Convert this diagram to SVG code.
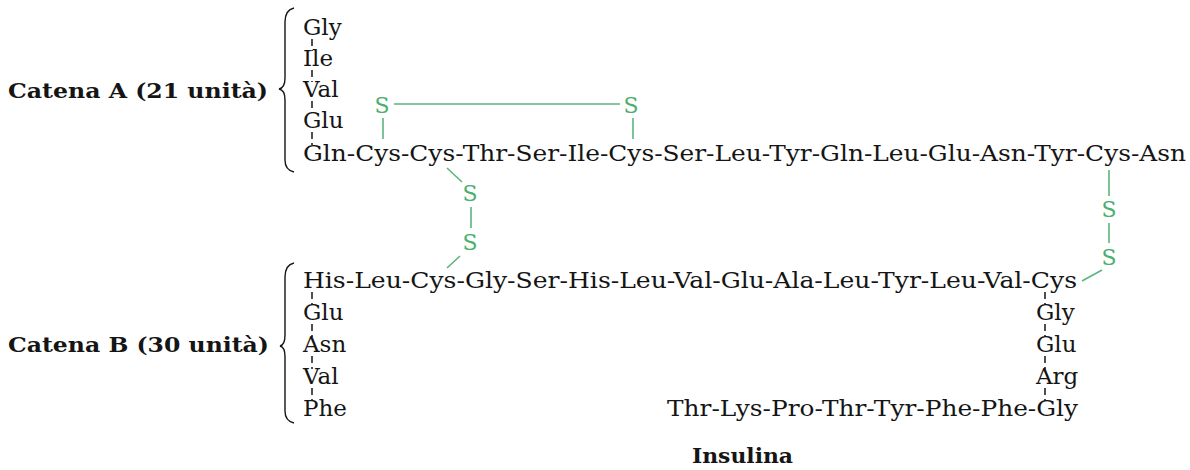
<svg xmlns="http://www.w3.org/2000/svg" width="1190" height="470" viewBox="0 0 1190 470">
<style>
.aa{font-family:"DejaVu Serif","Liberation Serif",serif;font-size:23px;fill:#151515}
.lbl{font-family:"DejaVu Serif","Liberation Serif",serif;font-size:21px;font-weight:bold;fill:#151515}
.s{font-family:"DejaVu Serif","Liberation Serif",serif;font-size:22px;fill:#4caf6e;text-anchor:middle}
.bond{stroke:#5bb57c;stroke-width:1.6;fill:none}
.tick{stroke:#151515;stroke-width:1.5;stroke-dasharray:7 4}
.brace{stroke:#151515;stroke-width:1.4;fill:none}
</style>
<rect width="1190" height="470" fill="#ffffff"/>

<g id="chainA">
  <text class="lbl" x="8" y="98" textLength="260" lengthAdjust="spacingAndGlyphs">Catena A (21 unità)</text>
  <path class="brace" d="M294,8 Q285,10 285,22 L285,78 Q285,88 279,89 Q285,90 285,100 L285,160 Q285,170 294,172"/>
  <text class="aa" x="303" y="35">Gly</text>
  <text class="aa" x="303" y="66">Ile</text>
  <text class="aa" x="303" y="97">Val</text>
  <text class="aa" x="303" y="128">Glu</text>
  <text class="aa" x="303" y="161" textLength="883" lengthAdjust="spacingAndGlyphs">Gln-Cys-Cys-Thr-Ser-Ile-Cys-Ser-Leu-Tyr-Gln-Leu-Glu-Asn-Tyr-Cys-Asn</text>
  <line class="tick" x1="312" y1="39" x2="312" y2="51"/>
  <line class="tick" x1="312" y1="70" x2="312" y2="82"/>
  <line class="tick" x1="312" y1="101" x2="312" y2="113"/>
  <line class="tick" x1="312" y1="132" x2="312" y2="145"/>
</g>

<g id="chainB">
  <text class="lbl" x="8" y="352" textLength="261" lengthAdjust="spacingAndGlyphs">Catena B (30 unità)</text>
  <path class="brace" d="M294,263 Q285,265 285,277 L285,335 Q285,345 280,346 Q285,347 285,357 L285,411 Q285,421 294,423"/>
  <text class="aa" x="303" y="288" textLength="774" lengthAdjust="spacingAndGlyphs">His-Leu-Cys-Gly-Ser-His-Leu-Val-Glu-Ala-Leu-Tyr-Leu-Val-Cys</text>
  <text class="aa" x="303" y="320">Glu</text>
  <text class="aa" x="303" y="352">Asn</text>
  <text class="aa" x="303" y="384">Val</text>
  <text class="aa" x="303" y="416">Phe</text>
  <text class="aa" x="1036" y="320">Gly</text>
  <text class="aa" x="1036" y="352">Glu</text>
  <text class="aa" x="1036" y="384">Arg</text>
  <text class="aa" x="667" y="416" textLength="411" lengthAdjust="spacingAndGlyphs">Thr-Lys-Pro-Thr-Tyr-Phe-Phe-Gly</text>
  <line class="tick" x1="312" y1="292" x2="312" y2="305"/>
  <line class="tick" x1="312" y1="324" x2="312" y2="337"/>
  <line class="tick" x1="312" y1="356" x2="312" y2="369"/>
  <line class="tick" x1="312" y1="388" x2="312" y2="401"/>
  <line class="tick" x1="1045" y1="292" x2="1045" y2="305"/>
  <line class="tick" x1="1045" y1="324" x2="1045" y2="337"/>
  <line class="tick" x1="1045" y1="356" x2="1045" y2="369"/>
  <line class="tick" x1="1045" y1="388" x2="1045" y2="401"/>
</g>

<g id="disulfides">
  <text class="s" x="382" y="113">S</text>
  <text class="s" x="631" y="113">S</text>
  <line class="bond" x1="394" y1="104" x2="620" y2="104"/>
  <line class="bond" x1="383" y1="118" x2="383" y2="139"/>
  <line class="bond" x1="633" y1="118" x2="633" y2="139"/>

  <line class="bond" x1="447" y1="168" x2="462" y2="182"/>
  <text class="s" x="470" y="201">S</text>
  <line class="bond" x1="471" y1="207" x2="471" y2="228"/>
  <text class="s" x="470" y="250">S</text>
  <line class="bond" x1="460" y1="256" x2="447" y2="268"/>

  <line class="bond" x1="1109" y1="170" x2="1109" y2="196"/>
  <text class="s" x="1109" y="217">S</text>
  <line class="bond" x1="1109" y1="223" x2="1109" y2="243"/>
  <text class="s" x="1109" y="265">S</text>
  <line class="bond" x1="1102" y1="270" x2="1082" y2="281"/>
</g>

<g id="title">
  <text class="lbl" x="692" y="463" font-size="20" textLength="101" lengthAdjust="spacingAndGlyphs">Insulina</text>
</g>
</svg>
